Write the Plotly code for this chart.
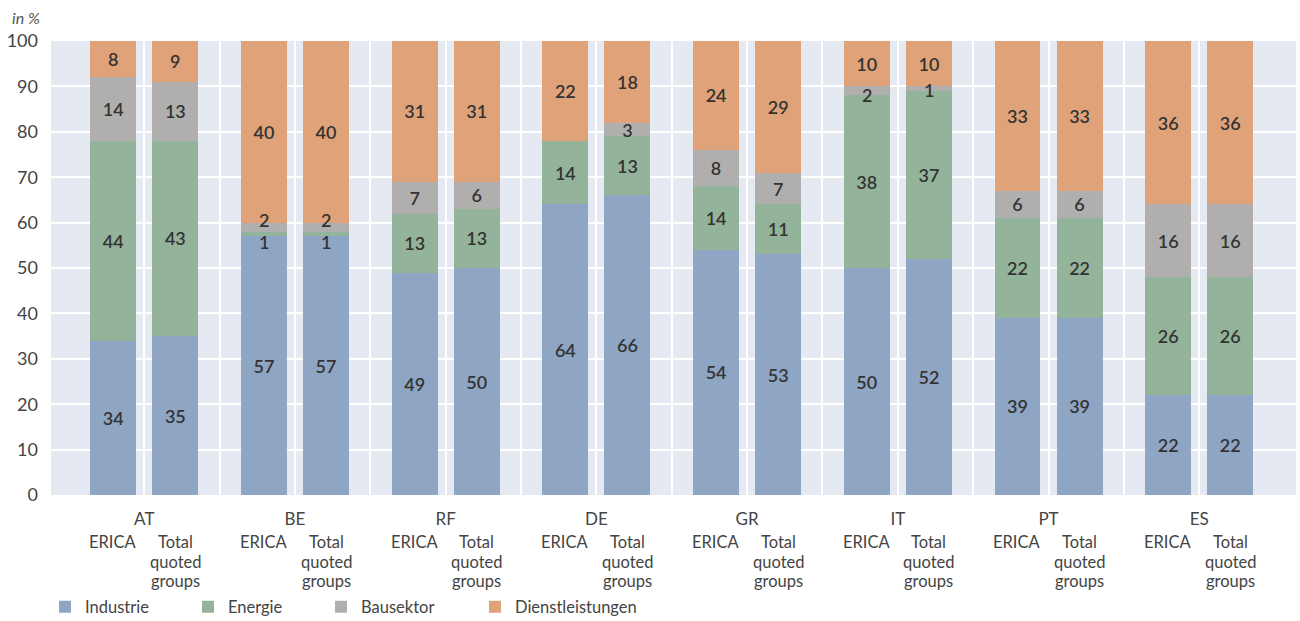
import numpy as np
import plotly.graph_objects as go

countries = ["AT", "BE", "RF", "DE", "GR", "IT", "PT", "ES"]
group_lines = [["ERICA"], ["Total", "quoted", "groups"]]
sectors = ["Industrie", "Energie", "Bausektor", "Dienstleistungen"]
colors = ["#8FA5C4", "#93B39A", "#B0AFAD", "#E0A379"]

# values per sector, per country: ERICA / Total quoted groups
erica = {
    "Industrie":        [34, 57, 49, 64, 54, 50, 39, 22],
    "Energie":          [44, 1, 13, 14, 14, 38, 22, 26],
    "Bausektor":        [14, 2, 7, None, 8, 2, 6, 16],
    "Dienstleistungen": [8, 40, 31, 22, 24, 10, 33, 36],
}
total = {
    "Industrie":        [35, 57, 50, 66, 53, 52, 39, 22],
    "Energie":          [43, 1, 13, 13, 11, 37, 22, 26],
    "Bausektor":        [13, 2, 6, 3, 7, 1, 6, 16],
    "Dienstleistungen": [9, 40, 31, 18, 29, 10, 33, 36],
}
y_ticks = [0, 10, 20, 30, 40, 50, 60, 70, 80, 90, 100]

# thin segments (labels too tall to fit) get labels drawn on top, nudged (px)
thin_limit = 2
label_nudge = {
    (0, "BE", "Energie"): -8, (0, "BE", "Bausektor"): 7,
    (1, "BE", "Energie"): -8, (1, "BE", "Bausektor"): 7,
    (0, "IT", "Bausektor"): -4, (1, "IT", "Bausektor"): -1,
}

idx = np.arange(len(countries))
offset = 0.206
bar_w = 0.305
x_erica = idx - offset
x_total = idx + offset

FONT = "Lato"
LABEL_FONT = dict(family=FONT, size=18, color="#333333", weight=600)
legend_names = ["legend", "legend2", "legend3", "legend4"]
legend_x_px = [45, 188, 321, 475]

fig = go.Figure()
annotations = []
for gi, (xs, data) in enumerate(((x_erica, erica), (x_total, total))):
    base = np.zeros(len(countries))
    for s, c, lg in zip(sectors, colors, legend_names):
        vals = data[s]
        texts = []
        for i, v in enumerate(vals):
            if v is None:
                texts.append("")
            elif v <= thin_limit:
                texts.append("")
                annotations.append(dict(
                    x=xs[i], y=base[i] + v / 2, xref="x", yref="y", text=str(v),
                    showarrow=False, yanchor="middle", xanchor="center",
                    yshift=label_nudge.get((gi, countries[i], s), 0),
                    borderpad=0, font=LABEL_FONT,
                ))
            else:
                texts.append(str(v))
        fig.add_trace(go.Bar(
            x=xs, y=vals, width=bar_w, name=s, legendgroup=s, showlegend=(gi == 0),
            legend=lg,
            marker=dict(color=c, line=dict(width=0)),
            text=texts,
            textposition="inside", insidetextanchor="middle",
            constraintext="none", textangle=0,
            textfont=LABEL_FONT,
            hoverinfo="skip", cliponaxis=False,
        ))
        base = base + np.array([0 if v is None else v for v in vals])

grid_vals = [v for v in np.arange(0, len(countries) - 1 + 0.01, 0.5)]
grid_text = [countries[int(v)] if float(v).is_integer() else "" for v in grid_vals]

for i in range(len(countries)):
    for xs, lines in ((x_erica, group_lines[0]), (x_total, group_lines[1])):
        for k, line in enumerate(lines):
            annotations.append(dict(
                x=xs[i], y=0, xref="x", yref="y", text=line, showarrow=False,
                yanchor="top", xanchor="center", yshift=-35 - 19.5 * k,
                font=dict(family=FONT, size=16.5, color="#444444"),
            ))
annotations.append(dict(
    xref="paper", x=(10 - 51) / (1300 - 55), yref="paper",
    y=1 + (41 - 17) / (621 - 41 - 126), text="<i>in %</i>",
    showarrow=False, xanchor="left", yanchor="middle",
    font=dict(family=FONT, size=16, color="#555555"),
))

legend_common = dict(
    orientation="h", xref="container", yref="container", xanchor="left",
    yanchor="middle", y=(621 - 607) / 621,
    font=dict(family=FONT, size=16.5, color="#444444"),
    bgcolor="rgba(0,0,0,0)",
)
layout_legends = {}
for lg, px in zip(legend_names, legend_x_px):
    layout_legends[lg] = dict(legend_common, x=px / 1300)

fig.update_layout(
    width=1300, height=621,
    margin=dict(l=51, r=4, t=41, b=126, autoexpand=False),
    barmode="stack",
    plot_bgcolor="#E5EAF2", paper_bgcolor="white",
    font=dict(family=FONT, color="#444444"),
    xaxis=dict(
        range=[-0.619, 7.642], tickvals=grid_vals, ticktext=grid_text,
        showgrid=True, gridcolor="white", gridwidth=2, zeroline=False,
        ticks="", ticklabelstandoff=12,
        tickfont=dict(family=FONT, size=17, color="#444444"),
    ),
    yaxis=dict(
        range=[0, 100], tickvals=y_ticks, showgrid=True, gridcolor="white",
        gridwidth=2, zeroline=False, ticks="", ticklabelstandoff=12,
        tickfont=dict(family=FONT, size=18, color="#444444"),
    ),
    annotations=annotations,
    showlegend=True,
    **layout_legends,
)

fig.write_html("out.html")
